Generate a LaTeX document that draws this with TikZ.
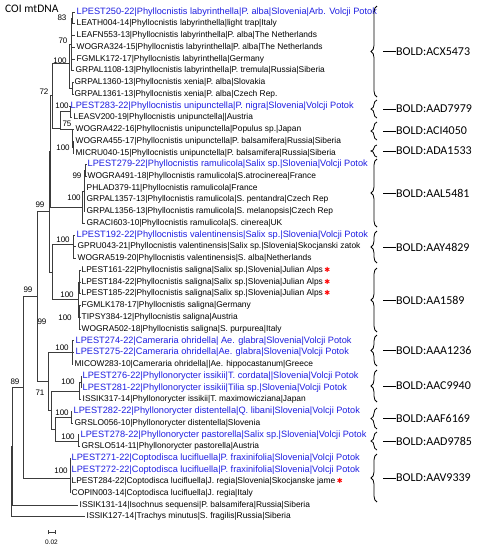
\documentclass[tikz,border=0pt]{standalone}
\usepackage{fontspec}
\setmainfont{Liberation Sans}
\newfontfamily\boldfam{Carlito}
\newfontfamily\symfam{DejaVu Sans}
\usetikzlibrary{decorations.pathreplacing}
\definecolor{tipblue}{RGB}{30,30,225}
\definecolor{brc}{RGB}{60,60,60}
\tikzset{
  leaf/.style={anchor=west,inner xsep=1.5pt,inner ysep=0pt,font=\fontsize{8.4}{9}\selectfont,text=black},
  leafb/.style={leaf,text=tipblue,font=\fontsize{9.2}{10}\selectfont},
  br/.style={draw=brc,line width=0.7pt},
  bs/.style={font=\fontsize{8}{9}\selectfont,inner sep=0pt},
  bracestyle/.style={draw=black,line width=0.8pt,decorate,decoration={brace,amplitude=6pt,mirror}},
  boldlab/.style={anchor=west,inner sep=0pt,font=\boldfam\fontsize{12}{13}\selectfont},
}
\newcommand\lf[5]{\node[#1] (#2) at (#3,{12+(#4-1)*11.74}) {#5};}
\newcommand\redast{\,{\color{red}\symfam\fontsize{7}{8}\selectfont ✱}}
\begin{document}
\begin{tikzpicture}[x=1pt,y=-1pt]
\useasboundingbox (0,0) rectangle (479,550);
% leaves
\lf{leafb}{L1}{75}{1}{LPEST250-22|Phyllocnistis labyrinthella|P. alba|Slovenia|Arb. Volcji Potok}
\lf{leaf}{L2}{75}{2}{LEATH004-14|Phyllocnistis labyrinthella|light trap|Italy}
\lf{leaf}{L3}{75}{3}{LEAFN553-13|Phyllocnistis labyrinthella|P. alba|The Netherlands}
\lf{leaf}{L4}{75}{4}{WOGRA324-15|Phyllocnistis labyrinthella|P. alba|The Netherlands}
\lf{leaf}{L5}{75}{5}{FGMLK172-17|Phyllocnistis labyrinthella|Germany}
\lf{leaf}{L6}{74}{6}{GRPAL1108-13|Phyllocnistis labyrinthella|P. tremula|Russia|Siberia}
\lf{leaf}{L7}{73}{7}{GRPAL1360-13|Phyllocnistis xenia|P. alba|Slovakia}
\lf{leaf}{L8}{73}{8}{GRPAL1361-13|Phyllocnistis xenia|P. alba|Czech Rep.}
\lf{leafb}{L9}{69}{9}{LPEST283-22|Phyllocnistis unipunctella|P. nigra|Slovenia|Volcji Potok}
\lf{leaf}{L10}{72}{10}{LEASV200-19|Phyllocnistis unipunctella||Austria}
\lf{leaf}{L11}{74}{11}{WOGRA422-16|Phyllocnistis unipunctella|Populus sp.|Japan}
\lf{leaf}{L12}{74}{12}{WOGRA455-17|Phyllocnistis unipunctella|P. balsamifera|Russia|Siberia}
\lf{leaf}{L13}{74}{13}{MICRU040-15|Phyllocnistis unipunctella|P. balsamifera|Russia|Siberia}
\lf{leafb}{L14}{86}{14}{LPEST279-22|Phyllocnistis ramulicola|Salix sp.|Slovenia|Volcji Potok}
\lf{leaf}{L15}{86}{15}{WOGRA491-18|Phyllocnistis ramulicola|S.atrocinerea|France}
\lf{leaf}{L16}{85}{16}{PHLAD379-11|Phyllocnistis ramulicola|France}
\lf{leaf}{L17}{85}{17}{GRPAL1357-13|Phyllocnistis ramulicola|S. pentandra|Czech Rep}
\lf{leaf}{L18}{85}{18}{GRPAL1356-13|Phyllocnistis ramulicola|S. melanopsis|Czech Rep}
\lf{leaf}{L19}{85}{19}{GRACI603-10|Phyllocnistis ramulicola|S. cinerea|UK}
\lf{leafb}{L20}{75}{20}{LPEST192-22|Phyllocnistis valentinensis|Salix sp.|Slovenia|Volcji Potok}
\lf{leaf}{L21}{76}{21}{GPRU043-21|Phyllocnistis valentinensis|Salix sp.|Slovenia|Skocjanski zatok}
\lf{leaf}{L22}{76}{22}{WOGRA519-20|Phyllocnistis valentinensis|S. alba|Netherlands}
\lf{leaf}{L23}{80}{23}{LPEST161-22|Phyllocnistis saligna|Salix sp.|Slovenia|Julian Alps\redast}
\lf{leaf}{L24}{80}{24}{LPEST184-22|Phyllocnistis saligna|Salix sp.|Slovenia|Julian Alps\redast}
\lf{leaf}{L25}{80}{25}{LPEST185-22|Phyllocnistis saligna|Salix sp.|Slovenia|Julian Alps\redast}
\lf{leaf}{L26}{80}{26}{FGMLK178-17|Phyllocnistis saligna|Germany}
\lf{leaf}{L27}{80}{27}{TIPSY384-12|Phyllocnistis saligna|Austria}
\lf{leaf}{L28}{80}{28}{WOGRA502-18|Phyllocnistis saligna|S. purpurea|Italy}
\lf{leafb}{L29}{74}{29}{LPEST274-22|Cameraria ohridella| Ae. glabra|Slovenia|Volcji Potok}
\lf{leafb}{L30}{74}{30}{LPEST275-22|Cameraria ohridella|Ae. glabra|Slovenia|Volcji Potok}
\lf{leaf}{L31}{73}{31}{MICOW283-10|Cameraria ohridella||Ae. hippocastanum|Greece}
\lf{leafb}{L32}{81}{32}{LPEST276-22|Phyllonorycter issikii|T. cordata||Slovenia|Volcji Potok}
\lf{leafb}{L33}{81}{33}{LPEST281-22|Phyllonorycter issikii|Tilia sp.|Slovenia|Volcji Potok}
\lf{leaf}{L34}{81}{34}{ISSIK317-14|Phyllonorycter issikii|T. maximowicziana|Japan}
\lf{leafb}{L35}{72}{35}{LPEST282-22|Phyllonorycter distentella|Q. libani|Slovenia|Volcji Potok}
\lf{leaf}{L36}{73}{36}{GRSLO056-10|Phyllonorycter distentella|Slovenia}
\lf{leafb}{L37}{79}{37}{LPEST278-22|Phyllonorycter pastorella|Salix sp.|Slovenia|Volcji Potok}
\lf{leaf}{L38}{80}{38}{GRSLO514-11|Phyllonorycter pastorella|Austria}
\lf{leafb}{L39}{70}{39}{LPEST271-22|Coptodisca lucifluella|P. fraxinifolia|Slovenia|Volcji Potok}
\lf{leafb}{L40}{70}{40}{LPEST272-22|Coptodisca lucifluella|P. fraxinifolia|Slovenia|Volcji Potok}
\lf{leaf}{L41}{70}{41}{LPEST284-22|Coptodisca lucifluella|J. regia|Slovenia|Skocjanske jame\redast}
\lf{leaf}{L42}{70}{42}{COPIN003-14|Coptodisca lucifluella|J. regia|Italy}
\lf{leaf}{L43}{78}{43}{ISSIK131-14|Isochnus sequensi|P. balsamifera|Russia|Siberia}
\lf{leaf}{L44}{85}{44}{ISSIK127-14|Trachys minutus|S. fragilis|Russia|Siberia}
% internal nodes
\coordinate (R0) at (11,481.5);
\coordinate (R1) at (12.5,446);
\coordinate (I) at (23,387);
\coordinate (Q) at (37,296);
\coordinate (Ph) at (49.5,211);
\coordinate (X) at (50.5,151);
\coordinate (N72) at (52,95.5);
\coordinate (NA) at (69,63);
\coordinate (N70) at (71,44.3);
\coordinate (N83) at (72.7,17.9);
\coordinate (NXen) at (72.5,88.3);
\coordinate (NUni) at (60,128);
\coordinate (NU1) at (70,111.8);
\coordinate (N75) at (72,129.4);
\coordinate (N100m) at (73,147);
\coordinate (NRa) at (82,207);
\coordinate (NRa1) at (84,191);
\coordinate (N99r) at (85.5,170.5);
\coordinate (NVS) at (52,272);
\coordinate (NVal) at (73,244);
\coordinate (NSal) at (78,299.6);
\coordinate (NSa1) at (79.5,282);
\coordinate (NSa2) at (79.5,317.2);
\coordinate (NL) at (48,381);
\coordinate (NCam) at (72,352.5);
\coordinate (NPhy) at (51,410);
\coordinate (NIss) at (79,391);
\coordinate (NIs1) at (81,382.3);
\coordinate (NDP) at (55,429.2);
\coordinate (NDis) at (71,417.5);
\coordinate (NPas) at (78,441);
\coordinate (NCop) at (70,478.7);
\coordinate (NCo1) at (70,464);
% branches
\draw[br] (R0) |- (R1); \draw[br] (R0) |- (L44.west);
\draw[br] (R1) |- (I); \draw[br] (R1) |- (L43.west);
\draw[br] (I) |- (Q); \draw[br] (I) |- (NCop);
\draw[br] (Q) |- (Ph); \draw[br] (Q) |- (NL);
\draw[br] (Ph) |- (X); \draw[br] (Ph) |- (NVS);
\draw[br] (X) |- (N72); \draw[br] (X) |- (NRa);
\draw[br] (N72) |- (NA); \draw[br] (N72) |- (NUni);
\draw[br] (NA) |- (N70); \draw[br] (NA) |- (NXen);
\draw[br] (N70) |- (N83); \draw[br] (N70) |- (L3.west); \draw[br] (N70) |- (L4.west); \draw[br] (N70) |- (L5.west); \draw[br] (N70) |- (L6.west);
\draw[br] (N83) |- (L1.west); \draw[br] (N83) |- (L2.west);
\draw[br] (NXen) |- (L7.west); \draw[br] (NXen) |- (L8.west);
\draw[br] (NUni) |- (NU1); \draw[br] (NUni) |- (N75);
\draw[br] (NU1) |- (L9.west); \draw[br] (NU1) |- (L10.west);
\draw[br] (N75) |- (L11.west); \draw[br] (N75) |- (N100m);
\draw[br] (N100m) |- (L12.west); \draw[br] (N100m) |- (L13.west);
\draw[br] (NRa) |- (NRa1); \draw[br] (NRa) |- (L19.west);
\draw[br] (NRa1) |- (N99r);
\foreach \k in {16,17,18} \draw[br] (NRa1) |- (L\k.west);
\draw[br] (N99r) |- (L14.west); \draw[br] (N99r) |- (L15.west);
\draw[br] (NVS) |- (NVal); \draw[br] (NVS) |- (NSal);
\foreach \k in {20,21,22} \draw[br] (NVal) |- (L\k.west);
\draw[br] (NSal) |- (NSa1); \draw[br] (NSal) |- (NSa2);
\foreach \k in {23,24,25} \draw[br] (NSa1) |- (L\k.west);
\foreach \k in {26,27,28} \draw[br] (NSa2) |- (L\k.west);
\draw[br] (NL) |- (NCam); \draw[br] (NL) |- (NPhy);
\foreach \k in {29,30,31} \draw[br] (NCam) |- (L\k.west);
\draw[br] (NPhy) |- (NIss); \draw[br] (NPhy) |- (NDP);
\draw[br] (NIss) |- (NIs1); \draw[br] (NIss) |- (L34.west);
\draw[br] (NIs1) |- (L32.west); \draw[br] (NIs1) |- (L33.west);
\draw[br] (NDP) |- (NDis); \draw[br] (NDP) |- (NPas);
\draw[br] (NDis) |- (L35.west); \draw[br] (NDis) |- (L36.west);
\draw[br] (NPas) |- (L37.west); \draw[br] (NPas) |- (L38.west);
\draw[br] (NCop) |- (NCo1); \draw[br] (NCop) |- (L41.west); \draw[br] (NCop) |- (L42.west);
\draw[br] (NCo1) |- (L39.west); \draw[br] (NCo1) |- (L40.west);
% bootstrap
\node[bs] (b1) at (62,17.5) {83};
\node[bs] (b2) at (63,40.5) {70};
\node[bs] (b3) at (60,60.5) {100};
\node[bs] (b4) at (44,92) {72};
\node[bs] (b5) at (62,106) {100};
\node[bs] (b6) at (67,124) {75};
\node[bs] (b7) at (63,148) {100};
\node[bs] (b8) at (77,176) {99};
\node[bs] (b9) at (74,198) {100};
\node[bs] (b10) at (40,205) {99};
\node[bs] (b11) at (63,240) {100};
\node[bs] (b12) at (28,290) {99};
\node[bs] (b13) at (67,295) {100};
\node[bs] (b14) at (65,318) {100};
\node[bs] (b15) at (42,322) {99};
\node[bs] (b16) at (62,348) {100};
\node[bs] (b17) at (15,382) {89};
\node[bs] (b18) at (68,382) {100};
\node[bs] (b19) at (40,393) {71};
\node[bs] (b20) at (62,413) {100};
\node[bs] (b21) at (68,437) {100};
\node[bs] (b22) at (61,471) {100};
% title
\node[anchor=west,inner sep=0pt,font=\boldfam\fontsize{11.5}{12}\selectfont] (title) at (5,9) {COI mtDNA};
% scale bar
\coordinate (s1) at (48,532); \coordinate (s2) at (55,532);
\draw[br,line width=0.6pt] (s1) -- (s2);
\draw[br,line width=0.6pt] ([yshift=-2pt]s1) -- ([yshift=2pt]s1);
\draw[br,line width=0.6pt] ([yshift=-2pt]s2) -- ([yshift=2pt]s2);
\node[bs,font=\fontsize{6.5}{7}\selectfont] (sc) at (51.5,542) {0.02};
% braces
\foreach \nm/\ya/\yb/\lab in {
  c1/6/97/ACX5473, c2/100/118/AAD7979, c3/122/140/ACI4050, c4/145/157/ADA1533,
  c5/159/227/AAL5481, c6/231/263/AAY4829, c7/268/332/AA1589, c8/335/366/AAA1236,
  c9/370/402/AAC9940, c10/408/429/AAF6169, c11/432/450/AAD9785, c12/454/502/AAV9339}{
  \coordinate (\nm a) at (377,\ya);
  \coordinate (\nm b) at (377,\yb);
  \draw[bracestyle] (\nm a) -- (\nm b) coordinate[midway] (\nm m);
  \node[boldlab] (\nm t) at (396,{(\ya+\yb)/2}) {BOLD:\lab};
  \draw[line width=0.8pt] ([xshift=6pt]\nm m) -- (\nm t.west);
}
\end{tikzpicture}
\end{document}
